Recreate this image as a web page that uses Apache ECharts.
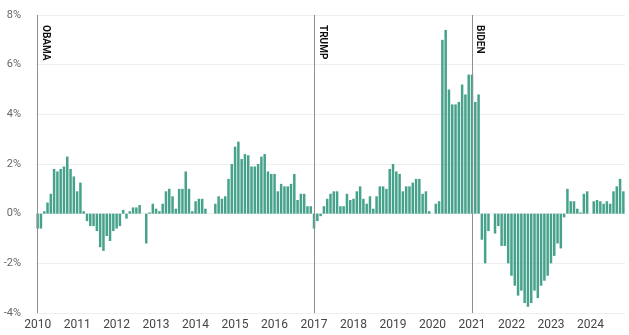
<!DOCTYPE html>
<html>
<head>
<meta charset="utf-8">
<script src="https://cdn.jsdelivr.net/npm/echarts@6/dist/echarts.min.js"></script>
<style>
  html, body { margin: 0; padding: 0; background: #fff; }
  #chart { width: 629px; height: 335px; }
</style>
</head>
<body>
<div id="chart"></div>
<script>
// monthly values, %
const years = [2010, 2011, 2012, 2013, 2014, 2015, 2016, 2017, 2018, 2019, 2020, 2021, 2022, 2023, 2024];
const v2010 = [-0.6, -0.6, 0.1, 0.45, 0.8, 1.8, 1.7, 1.8, 1.9, 2.3, 1.8, 1.5];
const v2011 = [0.9, 1.25, 0.1, -0.3, -0.5, -0.5, -0.7, -1.35, -1.5, -0.9, -1.1, -0.7];
const v2012 = [-0.6, -0.5, 0.15, -0.2, 0.1, 0.25, 0.25, 0.35, 0, -1.2, 0.05, 0.4];
const v2013 = [0.2, 0.1, 0.4, 0.9, 1.0, 0.7, 0.2, 1.0, 1.0, 1.7, 1.0, 0.1];
const v2014 = [0.5, 0.6, 0.6, 0.2, 0, 0, 0.4, 0.7, 0.6, 0.7, 1.4, 2.0];
const v2015 = [2.7, 2.9, 2.2, 2.4, 2.35, 1.9, 1.9, 2.0, 2.3, 2.4, 1.7, 1.6];
const v2016 = [1.6, 0.9, 1.2, 1.1, 1.1, 1.2, 1.6, 0.55, 0.8, 0.8, 0.3, 0.3];
const v2017 = [-0.6, -0.3, -0.1, 0.3, 0.6, 0.8, 0.9, 0.9, 0.3, 0.3, 0.8, 0.55];
const v2018 = [0.6, 0.9, 1.1, 0.6, 0.4, 0.7, 0.2, 0.7, 1.1, 1.1, 1.0, 1.8];
const v2019 = [2.0, 1.7, 1.6, 0.9, 1.1, 1.1, 1.25, 1.4, 1.4, 0.8, 0.9, 0.1];
const v2020 = [0, 0.4, 0.5, 7.0, 7.4, 5.0, 4.4, 4.4, 4.5, 5.2, 4.8, 5.6];
const v2021 = [5.6, 4.5, 4.8, -1.05, -2.0, -0.7, 0, -0.8, -0.5, -1.3, -1.3, -2.0];
const v2022 = [-2.5, -2.9, -3.3, -3.1, -3.6, -3.75, -3.6, -3.1, -3.4, -2.9, -2.7, -2.5];
const v2023 = [-2.0, -1.7, -1.2, -1.4, -0.15, 1.0, 0.5, 0.5, 0.2, 0.05, 0.8, 0.9];
const v2024 = [0, 0.5, 0.55, 0.5, 0.4, 0.5, 0.4, 0.9, 1.1, 1.4, 0.9];

const yTicks = [-4, -2, 0, 2, 4, 6, 8];
const presidents = ['OBAMA', 'TRUMP', 'BIDEN'];
const termStarts = ['2010-01', '2017-01', '2021-01'];

const values = [].concat(v2010, v2011, v2012, v2013, v2014, v2015, v2016, v2017,
  v2018, v2019, v2020, v2021, v2022, v2023, v2024);

// month categories
const months = [];
years.forEach(y => {
  for (let m = 1; m <= 12; m++) months.push(y + '-' + (m < 10 ? '0' + m : m));
});
const cats = months.slice(0, values.length);

const narrow = "'Liberation Sans Narrow', 'Roboto', sans-serif";
const yMin = yTicks[0], yMax = yTicks[yTicks.length - 1];

const chart = echarts.init(document.getElementById('chart'));
chart.setOption({
  animation: false,
  grid: { left: 36, right: 4, top: 15, bottom: 22 },
  xAxis: {
    type: 'category',
    data: cats,
    axisLine: { show: false },
    axisTick: { show: false },
    axisLabel: {
      interval: (i) => i % 12 === 0,
      formatter: (v) => v.slice(0, 4),
      color: '#444',
      fontSize: 12,
      fontFamily: narrow,
      margin: 6
    },
    splitLine: { show: false }
  },
  yAxis: {
    type: 'value',
    min: yMin,
    max: yMax,
    interval: 2,
    axisLine: { show: false },
    axisTick: { show: false },
    axisLabel: {
      formatter: (v) => v + '%',
      color: '#666',
      fontSize: 11,
      fontFamily: narrow,
      margin: 15
    },
    splitLine: { lineStyle: { color: '#efefef', width: 1 } }
  },
  series: [{
    type: 'bar',
    data: values,
    barWidth: '76%',
    itemStyle: { color: '#47a28c' },
    markLine: {
      silent: true,
      symbol: 'none',
      lineStyle: { color: '#8f8f8f', type: 'solid', width: 1 },
      label: {
        show: true,
        position: 'insideStartTop',
        formatter: '{b}',
        color: '#111',
        fontSize: 10,
        fontWeight: 'bold',
        fontFamily: narrow,
        distance: [10, 3]
      },
      data: termStarts.map((c, i) => [
        { name: presidents[i], coord: [c, yMax] },
        { coord: [c, yMin] }
      ])
    }
  }]
});
</script>
</body>
</html>
